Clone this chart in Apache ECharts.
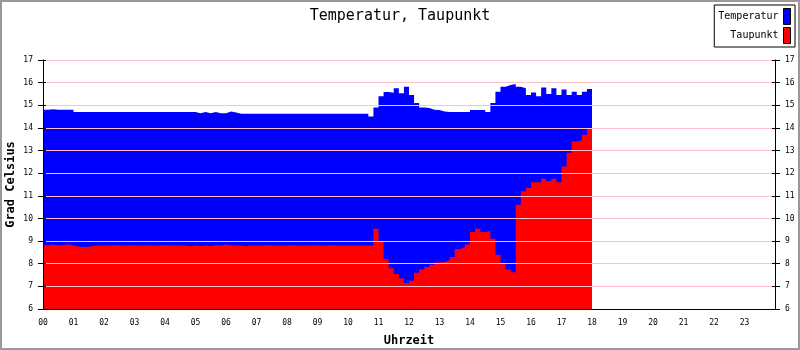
<!DOCTYPE html>
<html><head><meta charset="utf-8">
<script src="https://cdn.jsdelivr.net/npm/echarts@6/dist/echarts.min.js"></script>
<style>html,body{margin:0;padding:0;background:#fff}#c{width:800px;height:350px}</style>
</head><body><div id="c"></div><script>
const chartTitle = 'Temperatur, Taupunkt';
const seriesNames = ['Temperatur', 'Taupunkt'];
const hourLabels = ['00','01','02','03','04','05','06','07','08','09','10','11','12','13','14','15','16','17','18','19','20','21','22','23'];
const yAxisName = 'Grad Celsius';
const xAxisName = 'Uhrzeit';
const stepMinutes = 10; // one value every 10 minutes, starting at 00:00
const temperatur = [
  14.8,14.82,14.8,14.8,14.8,14.8,
  14.7,14.7,14.7,14.7,14.7,14.7,
  14.7,14.7,14.7,14.7,14.7,14.7,
  14.7,14.7,14.7,14.7,14.7,14.7,
  14.7,14.7,14.7,14.7,14.7,14.7,
  14.65,14.7,14.65,14.7,14.65,14.65,
  14.72,14.68,14.62,14.62,14.62,14.62,
  14.62,14.62,14.62,14.62,14.62,14.62,
  14.62,14.62,14.62,14.62,14.62,14.62,
  14.62,14.62,14.62,14.62,14.62,14.62,
  14.62,14.62,14.62,14.62,14.5,14.9,
  15.4,15.59,15.55,15.75,15.53,15.82,
  15.45,15.1,14.9,14.88,14.8,14.79,
  14.72,14.7,14.7,14.7,14.7,14.7,
  14.79,14.79,14.79,14.7,15.1,15.6,
  15.82,15.9,15.94,15.82,15.75,15.45,
  15.56,15.4,15.79,15.5,15.75,15.45,
  15.7,15.45,15.6,15.45,15.6,15.72,
  15.82
];
const taupunkt = [
  8.82,8.85,8.8,8.83,8.85,8.8,
  8.76,8.74,8.75,8.78,8.8,8.8,
  8.8,8.82,8.8,8.8,8.82,8.8,
  8.8,8.82,8.8,8.8,8.8,8.82,
  8.8,8.82,8.8,8.8,8.78,8.8,
  8.78,8.8,8.78,8.82,8.8,8.85,
  8.82,8.8,8.8,8.78,8.8,8.8,
  8.8,8.82,8.8,8.8,8.8,8.8,
  8.82,8.8,8.8,8.8,8.82,8.8,
  8.8,8.8,8.82,8.8,8.8,8.8,
  8.8,8.8,8.8,8.8,8.8,9.55,
  9.0,8.2,7.8,7.55,7.35,7.15,
  7.25,7.6,7.75,7.85,7.95,8.05,
  8.08,8.15,8.3,8.65,8.73,8.85,
  9.4,9.55,9.4,9.45,9.1,8.4,
  8.0,7.75,7.62,10.6,11.2,11.35,
  11.6,11.6,11.75,11.65,11.75,11.6,
  12.3,12.9,13.4,13.45,13.7,13.95,
  13.95
];
const seriesColors = ['#0000ff', '#ff0000'];
const mono = 'DejaVu Sans Mono';

const toPairs = arr => arr.map((v, i) => [i * stepMinutes / 60, v]);

const chart = echarts.init(document.getElementById('c'), null, {renderer: 'canvas'});
const yCommon = {
  type: 'value', min: 6, max: 17, interval: 1,
  axisLine: {show: true, lineStyle: {color: '#000', width: 1}},
  axisTick: {show: true, length: 5, lineStyle: {color: '#000'}},
  axisLabel: {color: '#000', fontFamily: mono, fontSize: 8, margin: 10}
};
const yInnerTicks = pos => ({
  type: 'value', min: 6, max: 17, interval: 1, position: pos, z: 4,
  axisLine: {show: false}, axisLabel: {show: false}, splitLine: {show: false},
  axisTick: {show: true, inside: true, length: 3, lineStyle: {color: '#000'}}
});
chart.setOption({
  animation: false,
  backgroundColor: '#fff',
  graphic: [{type: 'rect', shape: {x: 1, y: 1, width: 798, height: 348}, style: {fill: 'none', stroke: '#999', lineWidth: 2}, z: 100}],
  title: {text: chartTitle, left: 'center', top: 4, textStyle: {fontFamily: mono, fontSize: 15, fontWeight: 'normal', color: '#000'}},
  legend: {
    data: seriesNames, orient: 'vertical', right: 5, top: 5, align: 'right',
    icon: 'rect', itemWidth: 7, itemHeight: 16, itemGap: 2,
    padding: [3, 4, 3, 4], backgroundColor: '#fff', borderColor: '#000', borderWidth: 1,
    itemStyle: {borderColor: '#000', borderWidth: 1},
    textStyle: {fontFamily: mono, fontSize: 10, color: '#000'},
    formatter: n => n.padStart(10, ' ')
  },
  grid: {left: 43, right: 25, top: 60, bottom: 41, containLabel: false, outerBoundsMode: 'none'},
  xAxis: {
    type: 'value', min: 0, max: 24, interval: 1, z: 5,
    name: xAxisName, nameLocation: 'middle', nameGap: 26, nameMoveOverlap: false,
    nameTextStyle: {fontFamily: mono, fontSize: 12, fontWeight: 'bold', color: '#000'},
    axisLine: {show: true, onZero: false, lineStyle: {color: '#000', width: 1}},
    axisTick: {show: false},
    splitLine: {show: false},
    axisLabel: {color: '#000', fontFamily: mono, fontSize: 8, margin: 10, formatter: v => v < 24 ? hourLabels[v] : ''}
  },
  yAxis: [
    Object.assign({}, yCommon, {
      position: 'left', z: 4,
      name: yAxisName, nameLocation: 'middle', nameGap: 26, nameMoveOverlap: false,
      nameTextStyle: {fontFamily: mono, fontSize: 12, fontWeight: 'bold', color: '#000'},
      splitLine: {show: true, lineStyle: {color: '#ffc0cb', width: 1}}
    }),
    Object.assign({}, yCommon, {position: 'right', z: 4, splitLine: {show: false}}),
    yInnerTicks('left'),
    yInnerTicks('right')
  ],
  series: [
    {name: seriesNames[0], type: 'line', step: 'end', symbol: 'none', color: seriesColors[0],
     lineStyle: {width: 0}, areaStyle: {color: seriesColors[0], opacity: 1, origin: 'start'},
     data: toPairs(temperatur)},
    {name: seriesNames[1], type: 'line', step: 'end', symbol: 'none', color: seriesColors[1],
     lineStyle: {width: 0}, areaStyle: {color: seriesColors[1], opacity: 1, origin: 'start'},
     data: toPairs(taupunkt)}
  ]
});
</script></body></html>
